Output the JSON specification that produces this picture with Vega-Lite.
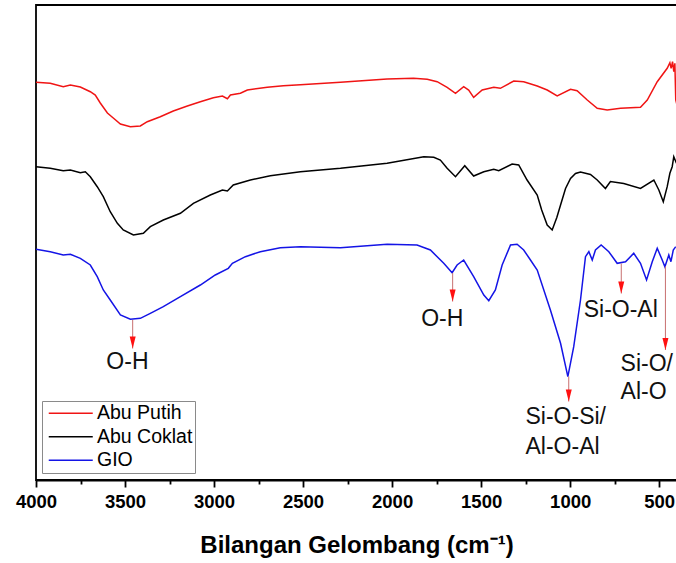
{
  "$schema": "https://vega.github.io/schema/vega-lite/v6.json",
  "width": 641,
  "height": 475,
  "autosize": {"type": "none"},
  "padding": {"left": 36, "top": 5, "right": 0, "bottom": 83},
  "background": "white",
  "config": {
    "view": {"stroke": "#000", "strokeWidth": 1.8},
    "font": "Liberation Sans"
  },
  "datasets": {
    "spectra": [
      {"sample": "Abu Putih", "wn": 4000, "T": 79.54},
      {"sample": "Abu Putih", "wn": 3920, "T": 79.34},
      {"sample": "Abu Putih", "wn": 3847, "T": 78.66},
      {"sample": "Abu Putih", "wn": 3807, "T": 79.0},
      {"sample": "Abu Putih", "wn": 3751, "T": 78.6},
      {"sample": "Abu Putih", "wn": 3695, "T": 77.66},
      {"sample": "Abu Putih", "wn": 3667, "T": 77.0},
      {"sample": "Abu Putih", "wn": 3639, "T": 75.4},
      {"sample": "Abu Putih", "wn": 3599, "T": 73.4},
      {"sample": "Abu Putih", "wn": 3566, "T": 72.4},
      {"sample": "Abu Putih", "wn": 3526, "T": 71.2},
      {"sample": "Abu Putih", "wn": 3470, "T": 70.66},
      {"sample": "Abu Putih", "wn": 3414, "T": 70.8},
      {"sample": "Abu Putih", "wn": 3375, "T": 71.66},
      {"sample": "Abu Putih", "wn": 3302, "T": 72.66},
      {"sample": "Abu Putih", "wn": 3229, "T": 73.8},
      {"sample": "Abu Putih", "wn": 3150, "T": 74.8},
      {"sample": "Abu Putih", "wn": 3077, "T": 75.66},
      {"sample": "Abu Putih", "wn": 3004, "T": 76.46},
      {"sample": "Abu Putih", "wn": 2953, "T": 76.8},
      {"sample": "Abu Putih", "wn": 2925, "T": 76.26},
      {"sample": "Abu Putih", "wn": 2908, "T": 77.0},
      {"sample": "Abu Putih", "wn": 2852, "T": 77.34},
      {"sample": "Abu Putih", "wn": 2813, "T": 78.0},
      {"sample": "Abu Putih", "wn": 2701, "T": 78.54},
      {"sample": "Abu Putih", "wn": 2611, "T": 78.86},
      {"sample": "Abu Putih", "wn": 2515, "T": 79.06},
      {"sample": "Abu Putih", "wn": 2290, "T": 79.54},
      {"sample": "Abu Putih", "wn": 2028, "T": 80.2},
      {"sample": "Abu Putih", "wn": 1880, "T": 80.34},
      {"sample": "Abu Putih", "wn": 1803, "T": 80.14},
      {"sample": "Abu Putih", "wn": 1747, "T": 79.66},
      {"sample": "Abu Putih", "wn": 1691, "T": 78.54},
      {"sample": "Abu Putih", "wn": 1644, "T": 77.34},
      {"sample": "Abu Putih", "wn": 1598, "T": 78.66},
      {"sample": "Abu Putih", "wn": 1570, "T": 78.0},
      {"sample": "Abu Putih", "wn": 1542, "T": 76.54},
      {"sample": "Abu Putih", "wn": 1494, "T": 78.0},
      {"sample": "Abu Putih", "wn": 1429, "T": 78.54},
      {"sample": "Abu Putih", "wn": 1392, "T": 78.34},
      {"sample": "Abu Putih", "wn": 1317, "T": 79.8},
      {"sample": "Abu Putih", "wn": 1261, "T": 79.66},
      {"sample": "Abu Putih", "wn": 1185, "T": 78.8},
      {"sample": "Abu Putih", "wn": 1129, "T": 78.0},
      {"sample": "Abu Putih", "wn": 1073, "T": 76.8},
      {"sample": "Abu Putih", "wn": 998, "T": 78.14},
      {"sample": "Abu Putih", "wn": 961, "T": 77.86},
      {"sample": "Abu Putih", "wn": 904, "T": 76.0},
      {"sample": "Abu Putih", "wn": 848, "T": 74.34},
      {"sample": "Abu Putih", "wn": 792, "T": 74.0},
      {"sample": "Abu Putih", "wn": 717, "T": 74.34},
      {"sample": "Abu Putih", "wn": 605, "T": 74.54},
      {"sample": "Abu Putih", "wn": 567, "T": 76.0},
      {"sample": "Abu Putih", "wn": 511, "T": 79.66},
      {"sample": "Abu Putih", "wn": 455, "T": 82.34},
      {"sample": "Abu Putih", "wn": 440, "T": 83.46},
      {"sample": "Abu Putih", "wn": 433, "T": 82.34},
      {"sample": "Abu Putih", "wn": 425, "T": 83.66},
      {"sample": "Abu Putih", "wn": 418, "T": 81.66},
      {"sample": "Abu Putih", "wn": 412, "T": 83.34},
      {"sample": "Abu Putih", "wn": 407, "T": 76.0},
      {"sample": "Abu Putih", "wn": 400, "T": 75.0},

      {"sample": "Abu Coklat", "wn": 4000, "T": 62.66},
      {"sample": "Abu Coklat", "wn": 3920, "T": 62.34},
      {"sample": "Abu Coklat", "wn": 3847, "T": 61.86},
      {"sample": "Abu Coklat", "wn": 3807, "T": 62.0},
      {"sample": "Abu Coklat", "wn": 3751, "T": 61.46},
      {"sample": "Abu Coklat", "wn": 3723, "T": 61.66},
      {"sample": "Abu Coklat", "wn": 3695, "T": 60.66},
      {"sample": "Abu Coklat", "wn": 3656, "T": 58.66},
      {"sample": "Abu Coklat", "wn": 3622, "T": 56.66},
      {"sample": "Abu Coklat", "wn": 3583, "T": 53.66},
      {"sample": "Abu Coklat", "wn": 3543, "T": 51.34},
      {"sample": "Abu Coklat", "wn": 3510, "T": 50.0},
      {"sample": "Abu Coklat", "wn": 3453, "T": 49.0},
      {"sample": "Abu Coklat", "wn": 3397, "T": 49.34},
      {"sample": "Abu Coklat", "wn": 3358, "T": 50.66},
      {"sample": "Abu Coklat", "wn": 3285, "T": 52.0},
      {"sample": "Abu Coklat", "wn": 3189, "T": 53.34},
      {"sample": "Abu Coklat", "wn": 3116, "T": 55.34},
      {"sample": "Abu Coklat", "wn": 3021, "T": 57.0},
      {"sample": "Abu Coklat", "wn": 2953, "T": 58.0},
      {"sample": "Abu Coklat", "wn": 2925, "T": 57.8},
      {"sample": "Abu Coklat", "wn": 2892, "T": 59.0},
      {"sample": "Abu Coklat", "wn": 2796, "T": 60.0},
      {"sample": "Abu Coklat", "wn": 2684, "T": 60.86},
      {"sample": "Abu Coklat", "wn": 2515, "T": 61.66},
      {"sample": "Abu Coklat", "wn": 2290, "T": 62.34},
      {"sample": "Abu Coklat", "wn": 2028, "T": 63.34},
      {"sample": "Abu Coklat", "wn": 1822, "T": 64.66},
      {"sample": "Abu Coklat", "wn": 1766, "T": 64.54},
      {"sample": "Abu Coklat", "wn": 1729, "T": 64.0},
      {"sample": "Abu Coklat", "wn": 1691, "T": 62.34},
      {"sample": "Abu Coklat", "wn": 1644, "T": 60.66},
      {"sample": "Abu Coklat", "wn": 1592, "T": 62.86},
      {"sample": "Abu Coklat", "wn": 1542, "T": 60.8},
      {"sample": "Abu Coklat", "wn": 1485, "T": 61.66},
      {"sample": "Abu Coklat", "wn": 1429, "T": 62.14},
      {"sample": "Abu Coklat", "wn": 1401, "T": 61.86},
      {"sample": "Abu Coklat", "wn": 1326, "T": 63.2},
      {"sample": "Abu Coklat", "wn": 1289, "T": 63.0},
      {"sample": "Abu Coklat", "wn": 1242, "T": 60.0},
      {"sample": "Abu Coklat", "wn": 1185, "T": 57.0},
      {"sample": "Abu Coklat", "wn": 1160, "T": 54.0},
      {"sample": "Abu Coklat", "wn": 1129, "T": 51.0},
      {"sample": "Abu Coklat", "wn": 1101, "T": 50.0},
      {"sample": "Abu Coklat", "wn": 1075, "T": 52.5},
      {"sample": "Abu Coklat", "wn": 1054, "T": 55.0},
      {"sample": "Abu Coklat", "wn": 1026, "T": 58.3},
      {"sample": "Abu Coklat", "wn": 998, "T": 60.3},
      {"sample": "Abu Coklat", "wn": 970, "T": 61.3},
      {"sample": "Abu Coklat", "wn": 942, "T": 61.6},
      {"sample": "Abu Coklat", "wn": 886, "T": 61.1},
      {"sample": "Abu Coklat", "wn": 848, "T": 60.0},
      {"sample": "Abu Coklat", "wn": 802, "T": 58.3},
      {"sample": "Abu Coklat", "wn": 774, "T": 59.7},
      {"sample": "Abu Coklat", "wn": 699, "T": 59.3},
      {"sample": "Abu Coklat", "wn": 605, "T": 58.3},
      {"sample": "Abu Coklat", "wn": 530, "T": 60.0},
      {"sample": "Abu Coklat", "wn": 502, "T": 58.0},
      {"sample": "Abu Coklat", "wn": 477, "T": 55.66},
      {"sample": "Abu Coklat", "wn": 455, "T": 58.66},
      {"sample": "Abu Coklat", "wn": 440, "T": 61.34},
      {"sample": "Abu Coklat", "wn": 427, "T": 62.66},
      {"sample": "Abu Coklat", "wn": 418, "T": 64.66},
      {"sample": "Abu Coklat", "wn": 403, "T": 63.34},

      {"sample": "GIO", "wn": 4000, "T": 46.14},
      {"sample": "GIO", "wn": 3920, "T": 45.66},
      {"sample": "GIO", "wn": 3847, "T": 45.0},
      {"sample": "GIO", "wn": 3807, "T": 45.14},
      {"sample": "GIO", "wn": 3751, "T": 44.34},
      {"sample": "GIO", "wn": 3695, "T": 43.0},
      {"sample": "GIO", "wn": 3656, "T": 40.66},
      {"sample": "GIO", "wn": 3622, "T": 38.0},
      {"sample": "GIO", "wn": 3583, "T": 36.0},
      {"sample": "GIO", "wn": 3526, "T": 33.0},
      {"sample": "GIO", "wn": 3470, "T": 32.14},
      {"sample": "GIO", "wn": 3414, "T": 32.34},
      {"sample": "GIO", "wn": 3358, "T": 33.34},
      {"sample": "GIO", "wn": 3285, "T": 34.66},
      {"sample": "GIO", "wn": 3189, "T": 36.66},
      {"sample": "GIO", "wn": 3077, "T": 39.0},
      {"sample": "GIO", "wn": 2993, "T": 41.0},
      {"sample": "GIO", "wn": 2920, "T": 42.34},
      {"sample": "GIO", "wn": 2897, "T": 43.34},
      {"sample": "GIO", "wn": 2824, "T": 44.66},
      {"sample": "GIO", "wn": 2740, "T": 45.66},
      {"sample": "GIO", "wn": 2628, "T": 46.46},
      {"sample": "GIO", "wn": 2515, "T": 46.66},
      {"sample": "GIO", "wn": 2290, "T": 46.46},
      {"sample": "GIO", "wn": 2028, "T": 47.14},
      {"sample": "GIO", "wn": 1860, "T": 47.0},
      {"sample": "GIO", "wn": 1785, "T": 46.0},
      {"sample": "GIO", "wn": 1710, "T": 43.34},
      {"sample": "GIO", "wn": 1663, "T": 41.46},
      {"sample": "GIO", "wn": 1635, "T": 43.0},
      {"sample": "GIO", "wn": 1598, "T": 44.0},
      {"sample": "GIO", "wn": 1542, "T": 40.66},
      {"sample": "GIO", "wn": 1485, "T": 37.0},
      {"sample": "GIO", "wn": 1457, "T": 35.86},
      {"sample": "GIO", "wn": 1420, "T": 38.0},
      {"sample": "GIO", "wn": 1382, "T": 43.0},
      {"sample": "GIO", "wn": 1335, "T": 47.0},
      {"sample": "GIO", "wn": 1298, "T": 47.14},
      {"sample": "GIO", "wn": 1261, "T": 46.0},
      {"sample": "GIO", "wn": 1223, "T": 44.0},
      {"sample": "GIO", "wn": 1185, "T": 42.0},
      {"sample": "GIO", "wn": 1111, "T": 34.0},
      {"sample": "GIO", "wn": 1054, "T": 27.34},
      {"sample": "GIO", "wn": 1013, "T": 20.66},
      {"sample": "GIO", "wn": 980, "T": 26.66},
      {"sample": "GIO", "wn": 942, "T": 36.0},
      {"sample": "GIO", "wn": 914, "T": 44.66},
      {"sample": "GIO", "wn": 895, "T": 45.66},
      {"sample": "GIO", "wn": 876, "T": 44.0},
      {"sample": "GIO", "wn": 858, "T": 46.0},
      {"sample": "GIO", "wn": 826, "T": 47.0},
      {"sample": "GIO", "wn": 783, "T": 45.66},
      {"sample": "GIO", "wn": 736, "T": 43.34},
      {"sample": "GIO", "wn": 689, "T": 43.66},
      {"sample": "GIO", "wn": 643, "T": 45.34},
      {"sample": "GIO", "wn": 605, "T": 43.34},
      {"sample": "GIO", "wn": 571, "T": 40.0},
      {"sample": "GIO", "wn": 539, "T": 43.66},
      {"sample": "GIO", "wn": 511, "T": 46.34},
      {"sample": "GIO", "wn": 483, "T": 44.0},
      {"sample": "GIO", "wn": 468, "T": 42.66},
      {"sample": "GIO", "wn": 446, "T": 45.0},
      {"sample": "GIO", "wn": 434, "T": 43.66},
      {"sample": "GIO", "wn": 421, "T": 46.0},
      {"sample": "GIO", "wn": 407, "T": 46.66}
    ],
    "arrows": [
      {"wn": 3457, "T": 32.0, "T2": 26.3},
      {"wn": 1660, "T": 41.4, "T2": 35.7},
      {"wn": 1008, "T": 20.7, "T2": 15.7},
      {"wn": 713, "T": 43.3, "T2": 37.3},
      {"wn": 465, "T": 42.7, "T2": 26.0}
    ],
    "labels": [
      {"wn": 3605, "T": 23.6, "label": "O-H"},
      {"wn": 1837, "T": 32.2, "label": "O-H"},
      {"wn": 1251, "T": 12.7, "label": "Si-O-Si/"},
      {"wn": 1251, "T": 6.7, "label": "Al-O-Al"},
      {"wn": 924, "T": 34.0, "label": "Si-O-Al"},
      {"wn": 717, "T": 23.3, "label": "Si-O/"},
      {"wn": 717, "T": 17.7, "label": "Al-O"}
    ]
  },
  "encoding": {
    "x": {
      "field": "wn",
      "type": "quantitative",
      "scale": {"domain": [4000, 400], "nice": false, "zero": false},
      "axis": {
        "values": [4000, 3750, 3500, 3250, 3000, 2750, 2500, 2250, 2000, 1750, 1500, 1250, 1000, 750, 500],
        "format": "d",
        "labelExpr": "datum.value % 500 === 0 ? datum.label : ''",
        "tickSize": {"condition": {"test": "datum.value % 500 === 0", "value": 7}, "value": 4},
        "tickWidth": 1.8,
        "tickColor": "#000",
        "domainColor": "#000",
        "domainWidth": 1.8,
        "grid": false,
        "labelFont": "Liberation Sans",
        "labelFontSize": 18.5,
        "labelFontWeight": "bold",
        "labelColor": "#000",
        "labelPadding": 5,
        "labelFlush": false,
        "labelOverlap": false,
        "title": "Bilangan Gelombang (cm⁻¹)",
        "titleFont": "Liberation Sans",
        "titleFontSize": 24,
        "titleFontWeight": "bold",
        "titleColor": "#000",
        "titlePadding": 22.5
      }
    },
    "y": {
      "field": "T",
      "type": "quantitative",
      "scale": {"domain": [0, 95], "nice": false, "zero": false},
      "axis": null
    }
  },
  "layer": [
    {
      "data": {"name": "spectra"},
      "mark": {"type": "line", "strokeWidth": 1.5, "clip": true},
      "encoding": {
        "color": {
          "field": "sample",
          "type": "nominal",
          "scale": {"domain": ["Abu Putih", "Abu Coklat", "GIO"], "range": ["#f01414", "#000000", "#1414e6"]},
          "legend": {
            "orient": "none",
            "legendX": 6,
            "legendY": 396,
            "title": null,
            "symbolType": "M-1,0H7",
            "symbolSize": 121,
            "symbolStrokeWidth": 1.5,
            "labelFont": "Liberation Sans",
            "labelFontSize": 19.5,
            "labelColor": "#000",
            "labelOffset": 33,
            "rowPadding": 2.5,
            "padding": 2.5,
            "strokeColor": "#8a8a8a",
            "fillColor": "white"
          }
        }
      }
    },
    {
      "data": {"name": "arrows"},
      "mark": {"type": "rule", "color": "#c87070", "strokeWidth": 1},
      "encoding": {
        "y2": {"field": "T2"}
      }
    },
    {
      "data": {"name": "arrows"},
      "mark": {"type": "point", "shape": "M-0.5,-1L0.5,-1L0,1Z", "filled": true, "color": "#ff1010", "opacity": 1, "size": 144, "yOffset": -6},
      "encoding": {
        "y": {"field": "T2", "type": "quantitative", "scale": {"domain": [0, 95], "nice": false, "zero": false}, "axis": null}
      }
    },
    {
      "data": {"name": "labels"},
      "mark": {"type": "text", "align": "left", "baseline": "middle", "font": "Liberation Sans", "fontSize": 23, "color": "#111"},
      "encoding": {
        "text": {"field": "label", "type": "nominal"}
      }
    }
  ]
}
